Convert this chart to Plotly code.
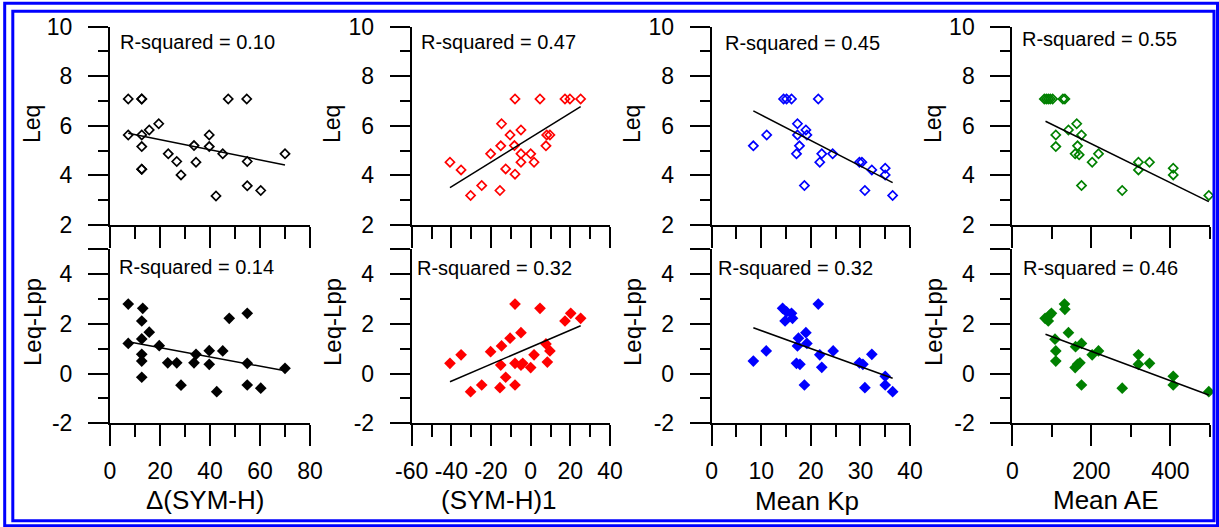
import plotly.graph_objects as go

W, H = 1219, 527

# ---------------- data ----------------
# Panel 1 : Delta(SYM-H)
p1_leq_x = [7.3, 12.7, 12.7, 7.3, 12.7, 12.7, 12.7, 12.7, 15.7, 19.5, 23.3, 26.7, 28.4,
            33.6, 34.4, 39.7, 39.7, 42.4, 45.1, 47.3, 54.7, 54.9, 54.9, 60.3, 70.0]
p1_leq_y = [7.08, 7.08, 7.08, 5.63, 5.63, 5.16, 4.25, 4.25, 5.83, 6.08, 4.87, 4.56, 4.02,
            5.20, 4.53, 5.63, 5.16, 3.17, 4.87, 7.08, 7.08, 4.56, 3.58, 3.39, 4.87]
p1_dif_x = [7.3, 13.1, 12.7, 15.7, 7.3, 12.7, 19.7, 12.7, 12.7, 12.7, 23.1, 26.7, 28.4,
            34.4, 33.6, 39.7, 39.7, 42.7, 45.1, 47.7, 54.9, 54.9, 54.9, 60.3, 70.0]
p1_dif_y = [2.79, 2.62, 2.11, 1.66, 1.21, 1.39, 1.12, 0.77, 0.50, -0.15, 0.43, 0.43, -0.47,
            0.77, 0.43, 0.92, 0.37, -0.73, 0.91, 2.22, 2.42, 0.41, -0.46, -0.59, 0.21]
p1_fit_x = [7.3, 70.0]
p1_leq_fit_y = [5.70, 4.42]
p1_dif_fit_y = [1.28, 0.11]

# Panel 2 : (SYM-H)1
p2_leq_x = [-40.7, -35.1, -30.3, -24.7, -20.2, -15.5, -15.1, -14.7, -12.6, -10.4, -8.2, -7.9,
            -7.9, -4.9, -4.9, -4.9, 0.0, 1.7, 4.7, 7.7, 8.1, 9.7, 17.3, 19.8, 25.2]
p2_leq_y = [4.53, 4.22, 3.19, 3.59, 4.87, 3.39, 5.19, 6.08, 4.26, 5.63, 5.20, 7.08,
            4.05, 5.83, 4.87, 4.53, 4.87, 4.53, 7.08, 5.19, 5.63, 5.63, 7.08, 7.08, 7.08]
p2_dif_x = [-40.7, -35.1, -30.3, -24.7, -20.2, -14.7, -15.1, -15.5, -12.6, -10.4, -7.9, -7.9,
            -7.9, -4.9, -4.9, -4.0, 0.0, 1.7, 4.7, 7.7, 8.4, 9.7, 17.3, 20.2, 25.2]
p2_dif_y = [0.41, 0.75, -0.73, -0.46, 0.88, 1.11, 0.34, -0.57, -0.15, 1.42, 2.79, 0.41,
            -0.46, 1.64, 0.34, 0.41, 0.24, 0.75, 2.62, 1.19, 0.46, 0.91, 2.11, 2.42, 2.22]
p2_fit_x = [-40.7, 25.2]
p2_leq_fit_y = [3.51, 6.77]
p2_dif_fit_y = [-0.33, 1.92]

# Panel 3 : Mean Kp
p3_leq_x = [8.4, 11.1, 14.5, 15.1, 16.1, 17.1, 17.3, 17.3, 17.7, 18.7, 19.0, 19.2, 21.5,
            21.8, 22.2, 24.4, 29.8, 30.3, 30.9, 32.3, 35.0, 35.0, 36.5]
p3_leq_y = [5.19, 5.63, 7.08, 7.08, 7.08, 4.87, 6.08, 5.63, 5.19, 3.59, 5.83, 5.63, 7.08,
            4.53, 4.87, 4.87, 4.53, 4.53, 3.39, 4.22, 4.29, 4.02, 3.19]
p3_dif_x = [8.4, 11.0, 14.3, 15.1, 16.1, 14.8, 16.3, 17.5, 17.3, 17.1, 17.8, 18.7, 19.0,
            19.2, 21.5, 21.8, 22.2, 24.5, 29.8, 30.5, 30.9, 32.3, 35.0, 35.0, 36.5]
p3_dif_y = [0.50, 0.91, 2.62, 2.48, 2.42, 2.11, 2.22, 1.42, 1.11, 0.41, 0.37, -0.46, 1.64,
            1.21, 2.79, 0.75, 0.25, 0.91, 0.43, 0.37, -0.57, 0.77, -0.11, -0.46, -0.73]
p3_fit_x = [8.4, 36.5]
p3_leq_fit_y = [6.60, 3.71]
p3_dif_fit_y = [1.84, -0.19]

# Panel 4 : Mean AE
p4_leq_x = [81, 86, 91, 96, 102, 128, 133, 110, 110, 142, 163, 165, 159, 169, 175, 175,
            202, 218, 278, 319, 319, 347, 407, 407, 497]
p4_leq_y = [7.08, 7.08, 7.08, 7.08, 7.08, 7.08, 7.08, 5.63, 5.16, 5.83, 6.08, 5.19, 4.87,
            4.83, 5.63, 3.59, 4.53, 4.87, 3.39, 4.53, 4.22, 4.53, 4.29, 4.02, 3.19]
p4_dif_x = [83, 91, 95, 99, 108, 110, 110, 132, 133, 142, 160, 175, 159, 165, 171, 175,
            202, 218, 278, 319, 319, 347, 407, 407, 497]
p4_dif_y = [2.22, 2.11, 2.35, 2.42, 1.38, 0.91, 0.50, 2.79, 2.58, 1.64, 1.08, 1.21, 0.24,
            0.37, 0.43, -0.46, 0.75, 0.91, -0.59, 0.75, 0.37, 0.41, -0.11, -0.46, -0.73]
p4_fit_x = [84, 497]
p4_leq_fit_y = [6.18, 2.94]
p4_dif_fit_y = [1.58, -0.86]

x_titles = ["\u0394(SYM-H)", "(SYM-H)1", "Mean Kp", "Mean AE"]
r2_top = ["R-squared = 0.10", "R-squared = 0.47", "R-squared = 0.45", "R-squared = 0.55"]
r2_bot = ["R-squared = 0.14", "R-squared = 0.32", "R-squared = 0.32", "R-squared = 0.46"]
colors = ["#000000", "#ff0000", "#0000ff", "#008000"]

x_ranges = [[0, 80], [-60, 40], [0, 40], [0, 500]]
x_tickvals = [[0, 20, 40, 60, 80], [-60, -40, -20, 0, 20, 40], [0, 10, 20, 30, 40], [0, 200, 400]]
x_ticktext = [["0", "20", "40", "60", "80"], ["-60", "-40", "-20", "0", "20", "40"],
              ["0", "10", "20", "30", "40"], ["0", "200", "400"]]
x_minor = [[10, 30, 50, 70], [-50, -30, -10, 10, 30], [5, 15, 25, 35], [100, 300, 500]]
y_top_tickvals = [2, 4, 6, 8, 10]
y_top_ticktext = ["2", "4", "6", "8", "10"]
y_top_minor = [3, 5, 7, 9]
y_bot_tickvals = [-2, 0, 2, 4, 5]
y_bot_ticktext = ["-2", "0", "2", "4", ""]
y_bot_minor = [-1, 1, 3]

panels = [
    (p1_leq_x, p1_leq_y, p1_dif_x, p1_dif_y, p1_fit_x, p1_leq_fit_y, p1_dif_fit_y),
    (p2_leq_x, p2_leq_y, p2_dif_x, p2_dif_y, p2_fit_x, p2_leq_fit_y, p2_dif_fit_y),
    (p3_leq_x, p3_leq_y, p3_dif_x, p3_dif_y, p3_fit_x, p3_leq_fit_y, p3_dif_fit_y),
    (p4_leq_x, p4_leq_y, p4_dif_x, p4_dif_y, p4_fit_x, p4_leq_fit_y, p4_dif_fit_y),
]

# ---------------- layout geometry (pixels) ----------------
axis_left = [110, 411.7, 711.7, 1012.3]
axis_right = [310, 610, 910, 1210]
top_y_px = (26.5, 225)       # y=10 .. y=2
bot_y_px = (249.1, 423.3)    # y=5 .. y=-2

FONT = "Liberation Sans, Arial, sans-serif"

def px(x):
    return x / W

def py(y):
    return 1 - y / H

fig = go.Figure()
layout = dict(
    template="none",
    width=W, height=H, margin=dict(l=0, r=0, t=0, b=0, pad=0),
    paper_bgcolor="white", plot_bgcolor="white", showlegend=False,
)

line_common = dict(showline=True, linewidth=2, linecolor="black", ticks="outside",
                   tickwidth=2, tickcolor="black", showgrid=False, zeroline=False,
                   fixedrange=True, automargin=False)

annotations = []
for i, (lx, ly, dx, dy, fx, lfy, dfy) in enumerate(panels):
    c = colors[i]
    top_idx = i + 1
    bot_idx = i + 5
    xt = "x" if top_idx == 1 else f"x{top_idx}"
    yt = "y" if top_idx == 1 else f"y{top_idx}"
    xb, yb = f"x{bot_idx}", f"y{bot_idx}"

    fig.add_trace(go.Scatter(x=lx, y=ly, mode="markers", xaxis=xt, yaxis=yt,
                             marker=dict(symbol="diamond-open", size=7, color=c,
                                         line=dict(width=1.7, color=c)),
                             cliponaxis=False))
    fig.add_trace(go.Scatter(x=fx, y=lfy, mode="lines", xaxis=xt, yaxis=yt,
                             line=dict(color="black", width=1.5)))
    fig.add_trace(go.Scatter(x=dx, y=dy, mode="markers", xaxis=xb, yaxis=yb,
                             marker=dict(symbol="diamond", size=9, color=c,
                                         line=dict(width=0)),
                             cliponaxis=False))
    fig.add_trace(go.Scatter(x=fx, y=dfy, mode="lines", xaxis=xb, yaxis=yb,
                             line=dict(color="black", width=1.5)))

    xdom = [px(axis_left[i]), px(axis_right[i])]
    for idx, ylab, yanchor in ((top_idx, False, yt), (bot_idx, True, yb)):
        key = "xaxis" if idx == 1 else f"xaxis{idx}"
        layout[key] = dict(
            domain=xdom, range=x_ranges[i], anchor=yanchor,
            tickmode="array", tickvals=x_tickvals[i], ticktext=x_ticktext[i],
            ticklen=21, showticklabels=ylab,
            tickfont=dict(family=FONT, size=23, color="black"),
            ticklabelstandoff=5,
            minor=dict(tickmode="array", tickvals=x_minor[i], ticks="outside",
                       ticklen=12, tickwidth=2, tickcolor="black", showgrid=False),
            **line_common)
    layout["yaxis" if top_idx == 1 else f"yaxis{top_idx}"] = dict(
        domain=[py(top_y_px[1]), py(top_y_px[0])], range=[2, 10], anchor=xt,
        tickmode="array", tickvals=y_top_tickvals, ticktext=y_top_ticktext,
        ticklen=20, tickfont=dict(family=FONT, size=23, color="black"),
        ticklabelstandoff=11,
        minor=dict(tickmode="array", tickvals=y_top_minor, ticks="outside",
                   ticklen=10, tickwidth=2, tickcolor="black", showgrid=False),
        **line_common)
    layout[f"yaxis{bot_idx}"] = dict(
        domain=[py(bot_y_px[1]), py(bot_y_px[0])], range=[-2, 5], anchor=xb,
        tickmode="array", tickvals=y_bot_tickvals, ticktext=y_bot_ticktext,
        ticklen=20, tickfont=dict(family=FONT, size=23, color="black"),
        ticklabelstandoff=11,
        minor=dict(tickmode="array", tickvals=y_bot_minor, ticks="outside",
                   ticklen=10, tickwidth=2, tickcolor="black", showgrid=False),
        **line_common)

# text positions (pixels)
r2_top_pos = [(118, 42), (419, 42), (723, 43), (1020, 39)]
r2_bot_pos = [(117, 267), (415, 268), (716, 268), (1021, 268)]
xtitle_pos = [(205, 500), (499, 500), (807, 501), (1106, 500)]
ytitle_x = [32, 332, 632, 933]

for i in range(4):
    annotations.append(dict(text=r2_top[i], x=px(r2_top_pos[i][0]), y=py(r2_top_pos[i][1]),
                            xref="paper", yref="paper", xanchor="left", yanchor="middle",
                            showarrow=False, font=dict(family=FONT, size=20, color="black")))
    annotations.append(dict(text=r2_bot[i], x=px(r2_bot_pos[i][0]), y=py(r2_bot_pos[i][1]),
                            xref="paper", yref="paper", xanchor="left", yanchor="middle",
                            showarrow=False, font=dict(family=FONT, size=20, color="black")))
    annotations.append(dict(text=x_titles[i], x=px(xtitle_pos[i][0]), y=py(xtitle_pos[i][1]),
                            xref="paper", yref="paper", xanchor="center", yanchor="middle",
                            showarrow=False, font=dict(family=FONT, size=26, color="black")))
    annotations.append(dict(text="Leq", x=px(ytitle_x[i]), y=py(124), textangle=-90,
                            xref="paper", yref="paper", xanchor="center", yanchor="middle",
                            showarrow=False, font=dict(family=FONT, size=23, color="black")))
    annotations.append(dict(text="Leq-Lpp", x=px(ytitle_x[i]), y=py(322), textangle=-90,
                            xref="paper", yref="paper", xanchor="center", yanchor="middle",
                            showarrow=False, font=dict(family=FONT, size=24, color="black")))

layout["annotations"] = annotations
layout["shapes"] = [
    dict(type="rect", xref="paper", yref="paper", x0=px(4.7), x1=px(1217.5),
         y0=py(3.3), y1=py(525.8), line=dict(color="#0000ff", width=3), layer="above"),
    dict(type="rect", xref="paper", yref="paper", x0=px(12.8), x1=px(1214),
         y0=py(11.3), y1=py(520.7), line=dict(color="#0000ff", width=3), layer="above"),
]

fig.update_layout(**layout)
fig.write_html("out.html", config={"displayModeBar": False},
               post_script="document.body.style.margin='0px';document.body.style.overflow='hidden';")
